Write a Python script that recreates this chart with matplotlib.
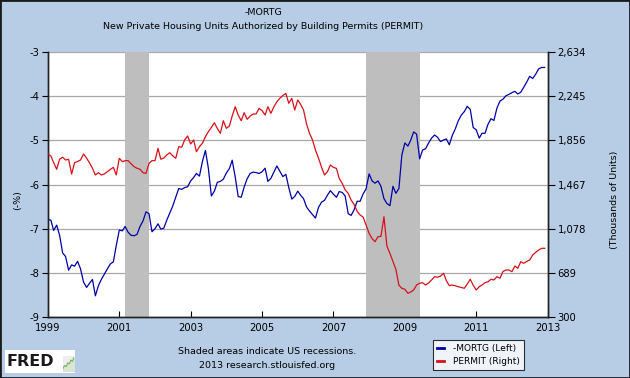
import numpy as np
import pandas as pd
import matplotlib
matplotlib.use("Agg")
import matplotlib.pyplot as plt
import matplotlib.dates as mdates
from matplotlib.patches import Rectangle
from matplotlib.ticker import FuncFormatter

# ---------- data (monthly, Jan 1999 - Dec 2012) ----------
neg_mortg = [
    -6.79, -6.81, -7.04, -6.92, -7.15, -7.55, -7.63, -7.94, -7.82, -7.85, -7.74, -7.91,   # 1999
    -8.21, -8.33, -8.24, -8.15, -8.52, -8.29, -8.15, -8.03, -7.91, -7.80, -7.75, -7.38,   # 2000
    -7.03, -7.05, -6.95, -7.08, -7.15, -7.16, -7.13, -6.95, -6.82, -6.62, -6.66, -7.07,   # 2001
    -7.00, -6.89, -7.01, -6.99, -6.81, -6.65, -6.49, -6.29, -6.09, -6.11, -6.07, -6.05,   # 2002
    -5.92, -5.84, -5.75, -5.81, -5.48, -5.23, -5.63, -6.26, -6.15, -5.95, -5.93, -5.88,   # 2003
    -5.74, -5.64, -5.45, -5.83, -6.27, -6.29, -6.06, -5.87, -5.75, -5.72, -5.73, -5.75,   # 2004
    -5.71, -5.63, -5.93, -5.86, -5.72, -5.58, -5.70, -5.82, -5.77, -6.07, -6.33, -6.27,   # 2005
    -6.15, -6.25, -6.32, -6.51, -6.60, -6.68, -6.76, -6.52, -6.40, -6.36, -6.24, -6.14,   # 2006
    -6.22, -6.29, -6.16, -6.18, -6.26, -6.66, -6.70, -6.57, -6.38, -6.38, -6.21, -6.10,   # 2007
    -5.76, -5.92, -5.97, -5.92, -6.04, -6.32, -6.43, -6.48, -6.04, -6.20, -6.09, -5.33,   # 2008
    -5.06, -5.13, -5.00, -4.81, -4.86, -5.42, -5.22, -5.19, -5.06, -4.95, -4.88, -4.93,   # 2009
    -5.03, -4.99, -4.97, -5.10, -4.89, -4.74, -4.56, -4.43, -4.35, -4.23, -4.30, -4.71,   # 2010
    -4.76, -4.95, -4.84, -4.84, -4.64, -4.51, -4.55, -4.27, -4.11, -4.07, -3.99, -3.96,   # 2011
    -3.92, -3.89, -3.95, -3.91, -3.80, -3.68, -3.55, -3.60, -3.50, -3.38, -3.35, -3.35,   # 2012
]
permit = [
    1736, 1718, 1660, 1601, 1690, 1707, 1683, 1689, 1559, 1659, 1670, 1683,   # 1999
    1736, 1700, 1659, 1610, 1551, 1571, 1551, 1560, 1580, 1600, 1618, 1551,   # 2000
    1698, 1668, 1677, 1677, 1650, 1624, 1610, 1601, 1571, 1565, 1653, 1677,   # 2001
    1677, 1786, 1690, 1700, 1727, 1747, 1720, 1698, 1800, 1795, 1860, 1894,   # 2002
    1824, 1859, 1756, 1800, 1830, 1888, 1932, 1970, 2011, 1960, 1918, 2029,   # 2003
    1962, 1982, 2070, 2152, 2080, 2029, 2099, 2041, 2070, 2088, 2088, 2138,   # 2004
    2117, 2079, 2152, 2094, 2150, 2196, 2226, 2250, 2270, 2182, 2226, 2123,   # 2005
    2211, 2170, 2123, 2000, 1918, 1859, 1771, 1700, 1620, 1551, 1580, 1639,   # 2006
    1618, 1609, 1520, 1477, 1420, 1389, 1330, 1290, 1230, 1198, 1180, 1110,   # 2007
    1037, 990, 963, 1007, 1010, 1183, 925, 860, 790, 720, 580, 553,           # 2008
    544, 509, 520, 538, 582, 597, 602, 582, 600, 626, 655, 650,               # 2009
    660, 685, 620, 576, 582, 575, 567, 560, 553, 590, 632, 580,               # 2010
    538, 567, 582, 602, 610, 632, 626, 655, 641, 700, 714, 714,               # 2011
    699, 749, 729, 787, 773, 790, 802, 846, 870, 890, 905, 905,               # 2012
]
dates = pd.date_range("1999-01-01", periods=len(permit), freq="MS")

recessions = [("2001-03-01", "2001-11-01"), ("2007-12-01", "2009-06-01")]
left_ticks = [-9, -8, -7, -6, -5, -4, -3]
right_ticks = [300, 689, 1078, 1467, 1856, 2245, 2634]
year_ticks = ["1999", "2001", "2003", "2005", "2007", "2009", "2011", "2013"]

# tiny sparkline in the FRED logo
logo_line = [1, 2, 1.6, 3, 2.6, 4, 3.5, 5]

# ---------- style ----------
plt.rcParams['font.family'] = 'DejaVu Sans'
plt.rcParams['axes.unicode_minus'] = False
bg = '#B6CDE5'
fs = 6.8

fig = plt.figure(figsize=(6.3, 3.78), dpi=100, facecolor=bg)
ax = fig.add_axes([0.076, 0.1614, 0.7933, 0.701])
ax.set_facecolor('white')
ax2 = ax.twinx()

for a, b in recessions:
    ax.axvspan(pd.Timestamp(a), pd.Timestamp(b), color='#BEBEBE', lw=0, zorder=1)

ax.set_ylim(-9, -3)
ax.set_yticks(left_ticks)
ax.grid(axis='y', color='#A8A8A8', lw=0.9, zorder=0)
ax.set_axisbelow(True)
ax.plot(dates, neg_mortg, color='#0000A8', lw=0.9, zorder=3)

ax2.set_ylim(300, 2634)
ax2.set_yticks(right_ticks)
ax2.yaxis.set_major_formatter(FuncFormatter(lambda v, p: f"{int(v):,}"))
ax2.plot(dates, permit, color='#D8101A', lw=0.9, zorder=3)

ax.set_xlim(pd.Timestamp("1999-01-01"), pd.Timestamp("2013-01-01"))
ax.set_xticks([pd.Timestamp(y + "-01-01") for y in year_ticks])
ax.xaxis.set_major_formatter(mdates.DateFormatter("%Y"))

for a in (ax, ax2):
    a.spines['top'].set_visible(False)
    for s in ('left', 'right', 'bottom'):
        a.spines[s].set_color('#222222')
        a.spines[s].set_linewidth(1.0)
ax.tick_params(axis='x', direction='in', length=4, labelsize=7.2, pad=4)
ax.tick_params(axis='y', direction='out', length=4, labelsize=7.2, pad=2)
ax2.tick_params(axis='y', direction='out', length=5, labelsize=7.2, pad=2)

# axis labels placed like the original (a bit below the middle)
fig.text(18 / 630, 1 - 200 / 378, "(-%)", rotation=90, ha='center', va='center', fontsize=fs)
fig.text(615 / 630, 1 - 200 / 378, "(Thousands of Units)", rotation=90,
         ha='center', va='center', fontsize=fs)

# titles
fig.text(0.418, 0.968, "-MORTG", ha='center', va='center', fontsize=fs)
fig.text(0.418, 0.931, "New Private Housing Units Authorized by Building Permits (PERMIT)",
         ha='center', va='center', fontsize=fs)

# footer
fig.text(0.424, 0.069, "Shaded areas indicate US recessions.", ha='center', va='center', fontsize=fs)
fig.text(0.424, 0.034, "2013 research.stlouisfed.org", ha='center', va='center', fontsize=fs)

# FRED logo
fig.patches.append(Rectangle((5 / 630, 1 - 373 / 378), 70 / 630, 23 / 378,
                             transform=fig.transFigure, facecolor='white', edgecolor='none',
                             zorder=-1))
fig.text(7 / 630, 1 - 362 / 378, "FRED", ha='left', va='center', fontsize=11.5,
         fontweight='heavy', color='#1A1A1A', family='DejaVu Sans')
ax_logo = fig.add_axes([63 / 630, 1 - 371 / 378, 11 / 630, 15 / 378])
ax_logo.set_zorder(5)
ax_logo.plot(logo_line, color='#7DAF6A', lw=0.8)
ax_logo.fill_between(range(len(logo_line)), logo_line, color='#D8E6D0')
ax_logo.set_facecolor('#EEEEEE')
ax_logo.set_xlim(0, len(logo_line) - 1)
ax_logo.set_ylim(0, 5.5)
ax_logo.set_xticks([])
ax_logo.set_yticks([])
for s in ax_logo.spines.values():
    s.set_visible(False)

# legend box
leg = ax.legend([plt.Line2D([], [], color='#0000A8', lw=2), plt.Line2D([], [], color='#D8101A', lw=2)],
                ["-MORTG (Left)", "PERMIT (Right)"], loc='lower left',
                bbox_to_anchor=(428 / 630, 3 / 378), bbox_transform=fig.transFigure,
                fontsize=6.5, frameon=True, fancybox=False, edgecolor='black',
                handlelength=0.8, handletextpad=1.0, borderpad=0.45, labelspacing=0.45)
leg.get_frame().set_linewidth(0.8)

fig.patches.append(Rectangle((0, 0), 1, 1, transform=fig.transFigure, fill=False,
                             edgecolor='#1A1A1A', lw=2))

fig.savefig("out.png", dpi=100, facecolor=bg)
